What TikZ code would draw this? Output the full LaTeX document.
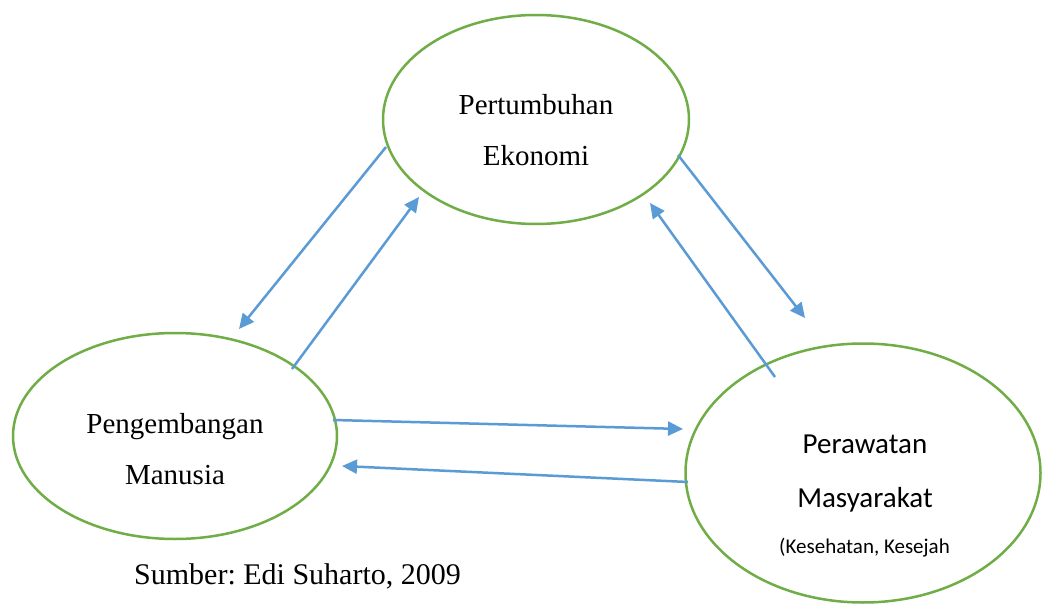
\documentclass[tikz,border=0pt]{standalone}
\usepackage{fontspec}
\setmainfont{Liberation Serif}
\newfontfamily\calibri{Carlito}
\usetikzlibrary{shapes.geometric,arrows.meta}
\definecolor{ellgreen}{HTML}{70AD47}
\definecolor{arrblue}{HTML}{5B9BD5}
\tikzset{
  ell/.style={draw=ellgreen,line width=2.5pt,ellipse,inner sep=0pt},
  conn/.style={draw=arrblue,line width=2.5pt,-{Triangle[length=15pt,width=14pt]}},
  serif/.style={font=\fontsize{29}{35}\selectfont,inner sep=0pt,anchor=base},
  sans/.style={font=\calibri\fontsize{29}{35}\selectfont,inner sep=0pt,anchor=base},
  small/.style={font=\calibri\fontsize{21}{25}\selectfont,inner sep=0pt,anchor=base}
}
\frenchspacing
\begin{document}
\begin{tikzpicture}[x=1pt,y=-1pt]
\useasboundingbox (0,0) rectangle (1042,604);
\fill[white] (0,0) rectangle (1042,604);
% ellipses
\node[ell,minimum width=306pt,minimum height=209pt] (eko) at (536,119.5) {};
\node[ell,minimum width=324pt,minimum height=206pt] (man) at (175,436) {};
\node[ell,minimum width=355pt,minimum height=259pt] (mas) at (863,473) {};
% texts
\node[serif] (t1) at (536,115) {Pertumbuhan};
\node[serif] (t2) at (536,166) {Ekonomi};
\node[serif] (t3) at (175,433) {Pengembangan};
\node[serif] (t4) at (175,484) {Manusia};
\node[sans] (t5) at (865,453) {Perawatan};
\node[sans] (t6) at (865,507) {Masyarakat};
\node[small] (t7) at (864.5,553) {(Kesehatan, Kesejah};
\node[serif,font=\frenchspacing\fontsize{30}{36}\selectfont,anchor=base west] (src) at (134,584) {Sumber: Edi Suharto, 2009};
% connector end points
\coordinate (a1s) at (386,147);  \coordinate (a1e) at (239,329);
\coordinate (a2s) at (292,369);  \coordinate (a2e) at (419,197);
\coordinate (a3s) at (678,155);  \coordinate (a3e) at (805,318);
\coordinate (a4s) at (775,377);  \coordinate (a4e) at (650,203);
\coordinate (a5s) at (333,420);  \coordinate (a5e) at (683,429);
\coordinate (a6s) at (688,482);  \coordinate (a6e) at (342,466);
% connectors
\draw[conn] (a1s) -- (a1e);
\draw[conn] (a2s) -- (a2e);
\draw[conn] (a3s) -- (a3e);
\draw[conn] (a4s) -- (a4e);
\draw[conn] (a5s) -- (a5e);
\draw[conn] (a6s) -- (a6e);
\end{tikzpicture}
\end{document}
